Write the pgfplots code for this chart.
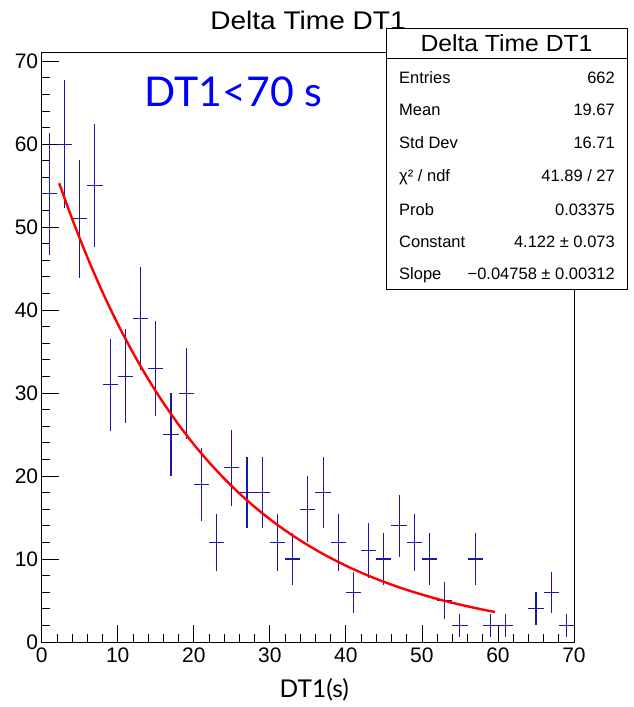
\documentclass[border=0pt]{standalone}
\usepackage{fontspec}
\setmainfont{Liberation Sans}
\newfontfamily\lato{Lato}
\usepackage{graphicx}
\usepackage{pgfplots}
\usepackage{pgfplotstable}
\pgfplotsset{compat=1.18}
\definecolor{histblue}{RGB}{25,25,165}
\pgfplotstableread{
x y e
1 54 7.35
3 60 7.75
5 51 7.14
7 55 7.42
9 31 5.57
11 32 5.66
13 39 6.24
15 33 5.74
17 25 5.00
19 30 5.48
21 19 4.36
23 12 3.46
25 21 4.58
27 18 4.24
29 18 4.24
31 12 3.46
33 10 3.16
35 16 4.00
37 18 4.24
39 12 3.46
41 6 2.45
43 11 3.32
45 10 3.16
47 14 3.74
49 12 3.46
51 10 3.16
53 5 2.24
55 2 1.41
57 10 3.16
59 2 1.41
61 2 1.41
65 4 2.00
67 6 2.45
69 2 1.41
}\histdata
\begin{document}
\begin{tikzpicture}
\useasboundingbox (-41.7pt,-65pt) rectangle (591.3pt,642pt);
\begin{axis}[
  scale only axis, width=532.3pt, height=590pt,
  at={(0pt,0pt)}, anchor=south west,
  xmin=0, xmax=70, ymin=0, ymax=71.1,
  xtick distance=10, ytick distance=10,
  minor x tick num=4, minor y tick num=4,
  tick align=inside, xtick pos=bottom, ytick pos=left,
  major tick length=17pt, minor tick length=8.5pt,
  axis line style={line width=0.8pt},
  every tick/.style={black, line width=0.8pt},
  ticklabel style={font=\fontsize{21}{21}\selectfont},
  xticklabel style={yshift=-2pt},
  /pgf/number format/assume math mode=true,
]
\addplot[color=histblue, draw=histblue, fill=histblue, only marks, mark=*,
  mark size=0.35pt, mark options={line width=0.2pt},
  error bars/.cd, x dir=both, x fixed=1, y dir=both, y explicit,
  error mark=none,
  error bar style={color=histblue, draw=histblue, solid, line width=1.1pt}]
  table[x=x, y=y, y error=e] {\histdata};
\addplot[red, line width=2.4pt, smooth] coordinates {
(2.3,55.29) (4,51.00) (6,46.37) (8,42.16) (10,38.33) (12,34.86) (14,31.69)
(16,28.82) (18,26.20) (20,23.82) (22,21.66) (24,19.69) (26,17.90) (28,16.28)
(30,14.80) (32,13.46) (34,12.24) (36,11.13) (38,10.12) (40,9.198) (42,8.363)
(44,7.604) (46,6.914) (48,6.286) (50,5.716) (52,5.197) (54,4.725) (56,4.296)
(58,3.906) (59.6,3.619)};
\end{axis}
% stats box
\draw[line width=0.8pt, fill=white] (345pt,352.7pt) rectangle (585.3pt,614pt);
\draw[line width=0.8pt] (345pt,583.7pt) -- (585.3pt,583.7pt);
\node[font=\fontsize{23.3}{24}\selectfont] at (464.8pt,598.7pt) {\scalebox{1.06}[1]{Delta Time DT1}};
\begin{scope}[every node/.style={font=\fontsize{16.5}{17}\selectfont, inner sep=0pt}]
\node[anchor=base west] at (357.3pt,558.9pt) {Entries};
\node[anchor=base east] at (573.3pt,558.9pt) {662};
\node[anchor=base west] at (357.3pt,526.9pt) {Mean};
\node[anchor=base east] at (573.3pt,526.9pt) {19.67};
\node[anchor=base west] at (357.3pt,493.5pt) {Std Dev};
\node[anchor=base east] at (573.3pt,493.5pt) {16.71};
\node[anchor=base west] at (357.3pt,460.2pt) {χ² / ndf};
\node[anchor=base east] at (573.3pt,460.2pt) {41.89 / 27};
\node[anchor=base west] at (357.3pt,426.9pt) {Prob};
\node[anchor=base east] at (573.3pt,426.9pt) {0.03375};
\node[anchor=base west] at (357.3pt,394.5pt) {Constant};
\node[anchor=base east] at (573.3pt,394.5pt) {4.122 ± 0.073};
\node[anchor=base west] at (357.3pt,362.2pt) {Slope};
\node[anchor=base east] at (573.3pt,362.2pt) {−0.04758 ± 0.00312};
\end{scope}
% title (drawn over the box, as in the reference)
\node[font=\fontsize{25.5}{26}\selectfont] at (266.3pt,621.2pt) {\scalebox{1.1}[1]{Delta Time DT1}};
% in-plot label
\node[font=\lato\fontsize{41}{41}\selectfont, text=blue] at (191.8pt,550.3pt) {DT1<70 s};
% x label
\node[font=\lato\fontsize{24.5}{25}\selectfont] at (272.6pt,-47.5pt) {DT1(s)};
\end{tikzpicture}
\end{document}
